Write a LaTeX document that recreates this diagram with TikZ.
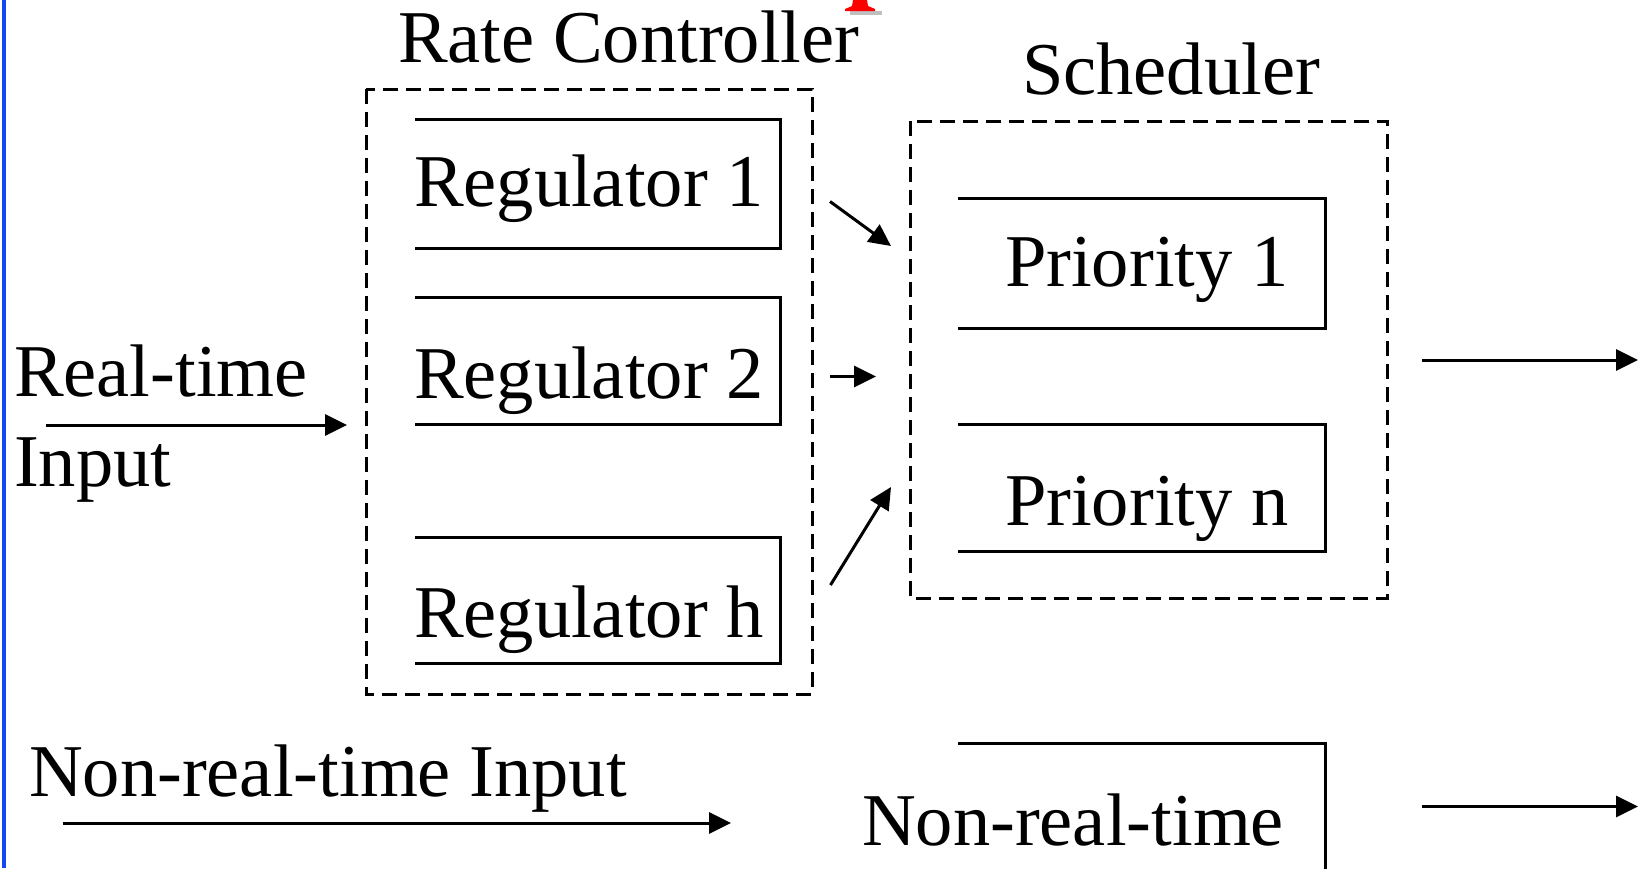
\documentclass[tikz,border=0pt]{standalone}
\usepackage{fontspec}
\setmainfont{Liberation Serif}
\usetikzlibrary{arrows.meta}
\tikzset{
  lbl/.style={anchor=base west, inner sep=0pt, outer sep=0pt, font=\fontsize{74.5}{80}\selectfont},
  openbox/.style={line width=3pt},
  grp/.style={line width=3pt, dash pattern=on 15pt off 8pt},
  flow/.style={line width=3pt, -{Triangle[length=22pt,width=21pt]}},
  boxarea/.style={inner sep=0pt, outer sep=0pt, draw=none},
}
\begin{document}
\begin{tikzpicture}[x=1pt,y=-1pt]
\useasboundingbox (0,0) rectangle (1638,868);
\fill[white] (0,0) rectangle (1638,868);
% blue margin line
\fill[fill={rgb,255:red,20;green,70;blue,245}] (1.5,0) rectangle (6,868);
% red cropped glyph with shadow
\fill[gray!50] (850,11) rectangle (882,14.5);
\fill[red] (853,0) -- (867,0) -- (868,6) -- (875,9) -- (875,11) -- (845,11) -- (845,9) -- (852,6) -- cycle;

% group boxes
\node[boxarea, minimum width=446pt, minimum height=605pt] (rc) at (589,391.5) {};
\draw[grp] (rc.north west) rectangle (rc.south east);
\node[lbl] (rctext) at (398,62.7) {Rate Controller};

\node[boxarea, minimum width=477pt, minimum height=477pt] (sch) at (1148.5,359.5) {};
\draw[grp] (sch.north west) rectangle (sch.south east);
\node[lbl] (schtext) at (1022,94) {Scheduler};

% regulators
\node[boxarea, minimum width=365pt, minimum height=129pt] (r1) at (597.5,183.5) {};
\node[boxarea, minimum width=365pt, minimum height=127pt] (r2) at (597.5,360.5) {};
\node[boxarea, minimum width=365pt, minimum height=126pt] (rh) at (597.5,600) {};
\foreach \n in {r1,r2,rh}{
  \draw[openbox] (\n.north west) -- (\n.north east) -- (\n.south east) -- (\n.south west);
}
\node[lbl] (r1t) at (414,206) {Regulator 1};
\node[lbl] (r2t) at (414,398) {Regulator 2};
\node[lbl] (rht) at (414,637) {Regulator h};

% priorities
\node[boxarea, minimum width=367pt, minimum height=130pt] (p1) at (1141.5,263.5) {};
\node[boxarea, minimum width=367pt, minimum height=127pt] (pn) at (1141.5,487.5) {};
\node[boxarea, minimum width=367pt, minimum height=140pt] (nrt) at (1141.5,813) {};
\foreach \n in {p1,pn}{
  \draw[openbox] (\n.north west) -- (\n.north east) -- (\n.south east) -- (\n.south west);
}
\coordinate (nrtbottom) at (0,870);
\draw[openbox] (nrt.north west) -- (nrt.north east) -- (nrt.north east |- nrtbottom);
\node[lbl] (p1t) at (1005,286) {Priority 1};
\node[lbl] (pnt) at (1005,525.5) {Priority n};
\node[lbl] (nrtt) at (862,845) {Non-real-time};

% inputs
\node[lbl] (rti1) at (14,396.7) {Real-time};
\node[lbl] (rti2) at (14,486.7) {Input};
\node[lbl] (nrti) at (29,796) {Non-real-time Input};

% connectors
\coordinate (a0) at (46,425);
\coordinate (a0e) at (rc.west |- a0);
\draw[flow] (a0) -- ([xshift=-19pt]a0e);

\coordinate (b1s) at (830,201.5);
\coordinate (b1e) at (891,246);
\coordinate (b2s) at (830,376.5);
\coordinate (b2e) at (876,376.5);
\coordinate (b3s) at (830.5,585);
\coordinate (b3e) at (891,487);
\draw[flow] (b1s) -- (b1e);
\draw[flow] (b2s) -- (b2e);
\draw[flow] (b3s) -- (b3e);

\coordinate (o1s) at (1422,360);
\coordinate (o1e) at (1638,360);
\draw[flow] (o1s) -- (o1e);
\coordinate (o2s) at (1422,806.5);
\coordinate (o2e) at (1638,806.5);
\draw[flow] (o2s) -- (o2e);

\coordinate (n0s) at (62.7,823);
\coordinate (n0e) at (731,823);
\draw[flow] (n0s) -- (n0e);
\end{tikzpicture}
\end{document}
